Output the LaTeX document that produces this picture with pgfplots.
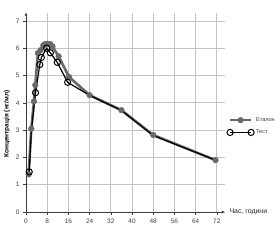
\documentclass[border=0pt]{standalone}
\usepackage{pgfplots}
\pgfplotsset{compat=1.18}
\usetikzlibrary{arrows.meta}
\usepackage{fontspec}
\setmainfont{Liberation Sans}
\definecolor{etal}{RGB}{105,105,105}
\definecolor{gridc}{RGB}{195,195,195}
\definecolor{axc}{RGB}{60,60,60}
\begin{document}
\begin{tikzpicture}[x=1bp,y=1bp]
\begin{axis}[
  scale only axis,
  width=198.8bp, height=199.3bp,
  xmin=0, xmax=75, ymin=0, ymax=7.3,
  axis lines=left,
  axis line style={axc, line width=0.8bp, -{Latex[length=3bp,width=3bp]}},
  xtick={0,8,16,24,32,40,48,56,64,72},
  ytick={0,1,2,3,4,5,6,7},
  grid=major,
  major grid style={gridc, line width=0.7bp},
  tick style={axc, line width=0.5bp},
  tick align=outside,
  major tick length=2.5bp,
  ticklabel style={font=\fontsize{6.5}{7}\selectfont, text=black!75},
  /pgf/number format/assume math mode=true,
  xticklabel style={yshift=-1bp},
  yticklabel style={xshift=-0.5bp},
  clip=false,
  legend style={at={(rel axis cs:1,0.43)}, anchor=west, draw=none, fill=none,
    font=\fontsize{5.5}{6}\selectfont, text=black!80, row sep=3bp, inner sep=1bp, xshift=1bp},
  legend cell align=left,
  legend image code/.code={
    \draw[mark repeat=2, mark phase=2, #1] plot coordinates {(0bp,0bp) (10.5bp,0bp) (21bp,0bp)};
  },
]
\addplot[etal, line width=2.6bp, mark=*, mark size=2.9bp, mark options={fill=etal, draw=etal, line width=0.3bp}]
 coordinates {(1,1.38) (2,3.05) (3,4.05) (3.5,4.65) (4.5,5.82) (5.5,5.93) (6.5,6.1) (7.2,6.15) (8.2,6.16) (9.2,6.15) (10,6.06) (12.3,5.7) (16.2,4.95) (24,4.28) (36,3.73) (48,2.82) (71.5,1.9)};
\addlegendentry{Еталон}
\addplot[black, line width=1.2bp, mark=o, mark size=3.1bp, mark options={fill=white, draw=black, line width=1bp}, mark indices={1,3,4,5,6,7,8,9}]
 coordinates {(1.2,1.47) (2,2.95) (3.6,4.37) (5.2,5.4) (5.8,5.66) (7.8,6.0) (9.2,5.83) (11.8,5.48) (15.7,4.75) (24,4.27) (36,3.72) (48,2.8) (71.5,1.9)};
\addlegendentry{Тест}
\end{axis}
\node[anchor=west, font=\fontsize{7}{8}\selectfont, text=black!85] at (200bp,0bp) {Час, години};
\node[rotate=90, font=\bfseries\fontsize{6.5}{7}\selectfont] at (-19bp,88bp) {Концентрація (нг/мл)};
\pgfresetboundingbox
\path (-26bp,-28bp) rectangle (254bp,212bp);
\end{tikzpicture}
\end{document}
